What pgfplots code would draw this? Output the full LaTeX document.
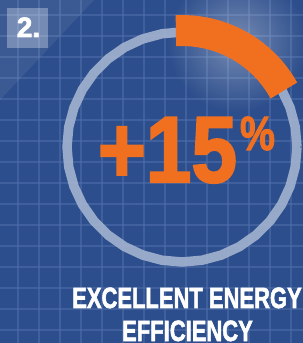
\documentclass[border=0pt]{standalone}
\usepackage{pgfplots}
\pgfplotsset{compat=1.18}
\usetikzlibrary{fadings}
\usepackage{fontspec}
\setmainfont{Liberation Sans}
\newfontfamily\heavy{Liberation Sans Bold}[FakeBold=2.2]
\newfontfamily\heavyb{Liberation Sans Bold}[FakeBold=2.5]
\definecolor{bgblue}{HTML}{2D4E8C}
\definecolor{gridblue}{HTML}{4F6FAB}
\definecolor{ringgray}{HTML}{A3B3D0}
\definecolor{orng}{HTML}{F07020}
\tikzfading[name=glowfade, inner color=transparent!0, outer color=transparent!100]
\begin{document}
\begin{tikzpicture}
\begin{axis}[
  scale only axis, width=303bp, height=343bp,
  xmin=-182, xmax=121, ymin=-196, ymax=147,
  axis line style={draw=none},
  axis background/.style={fill=bgblue},
  xtick={-164,-143,...,121}, ytick={132,111,...,-196},
  xticklabels={}, yticklabels={},
  major tick length=0pt,
  grid=major, grid style={gridblue, line width=1.4pt, opacity=0.55},
  clip=false,
]
\coordinate (sw) at (rel axis cs:0,0);
\coordinate (ne) at (rel axis cs:1,1);
% lighter diagonal band top left
\fill[white, opacity=0.07] (axis cs:-182,147) -- (axis cs:-88,147) -- (axis cs:-182,47) -- cycle;
% glow near the orange arc
\fill[white, opacity=0.35, path fading=glowfade] (axis cs:55,105) circle (70bp);
% ring
\addplot[data cs=polar, ringgray, line width=9.5bp, opacity=0.9] coordinates {
(0,115)(10,115)(20,115)(30,115)(40,115)(50,115)(60,115)(70,115)(80,115)(90,115)
(100,115)(110,115)(120,115)(130,115)(140,115)(150,115)(160,115)(170,115)(180,115)
(190,115)(200,115)(210,115)(220,115)(230,115)(240,115)(250,115)(260,115)(270,115)
(280,115)(290,115)(300,115)(310,115)(320,115)(330,115)(340,115)(350,115)(360,115)};
% orange arc
\addplot[data cs=polar, orng, line width=31bp, line cap=butt] coordinates {
(29,116.5)(33,116.5)(37,116.5)(41,116.5)(45,116.5)(49,116.5)(53,116.5)(57,116.5)
(61,116.5)(65,116.5)(69,116.5)(73,116.5)(77,116.5)(81,116.5)(85,116.5)(89,116.5)(93,116.5)};
% number box
\fill[white, opacity=0.3] (axis cs:-175,139) rectangle (axis cs:-134,99);
\node[anchor=base, text=white, font=\heavy\fontsize{28bp}{28bp}\selectfont, inner sep=0pt] at (axis cs:-153.5,110) {2.};
% big number
\node[anchor=base, text=orng, font=\heavyb\fontsize{93.6bp}{93bp}\selectfont, inner sep=0pt, xscale=0.876] at (axis cs:-14.5,-35) {+15};
\node[anchor=base, text=orng, font=\heavy\fontsize{48bp}{48bp}\selectfont, inner sep=0pt, xscale=0.82] at (axis cs:75.5,-3) {\%};
% caption
\node[anchor=base, text=white, font=\heavy\fontsize{29.3bp}{29bp}\selectfont, inner sep=0pt, xscale=0.75] at (axis cs:5,-161) {EXCELLENT ENERGY};
\node[anchor=base, text=white, font=\heavy\fontsize{29.3bp}{29bp}\selectfont, inner sep=0pt, xscale=0.75] at (axis cs:5.5,-194) {EFFICIENCY};
\end{axis}
\pgfresetboundingbox
\useasboundingbox (sw) rectangle (ne);
\end{tikzpicture}
\end{document}
